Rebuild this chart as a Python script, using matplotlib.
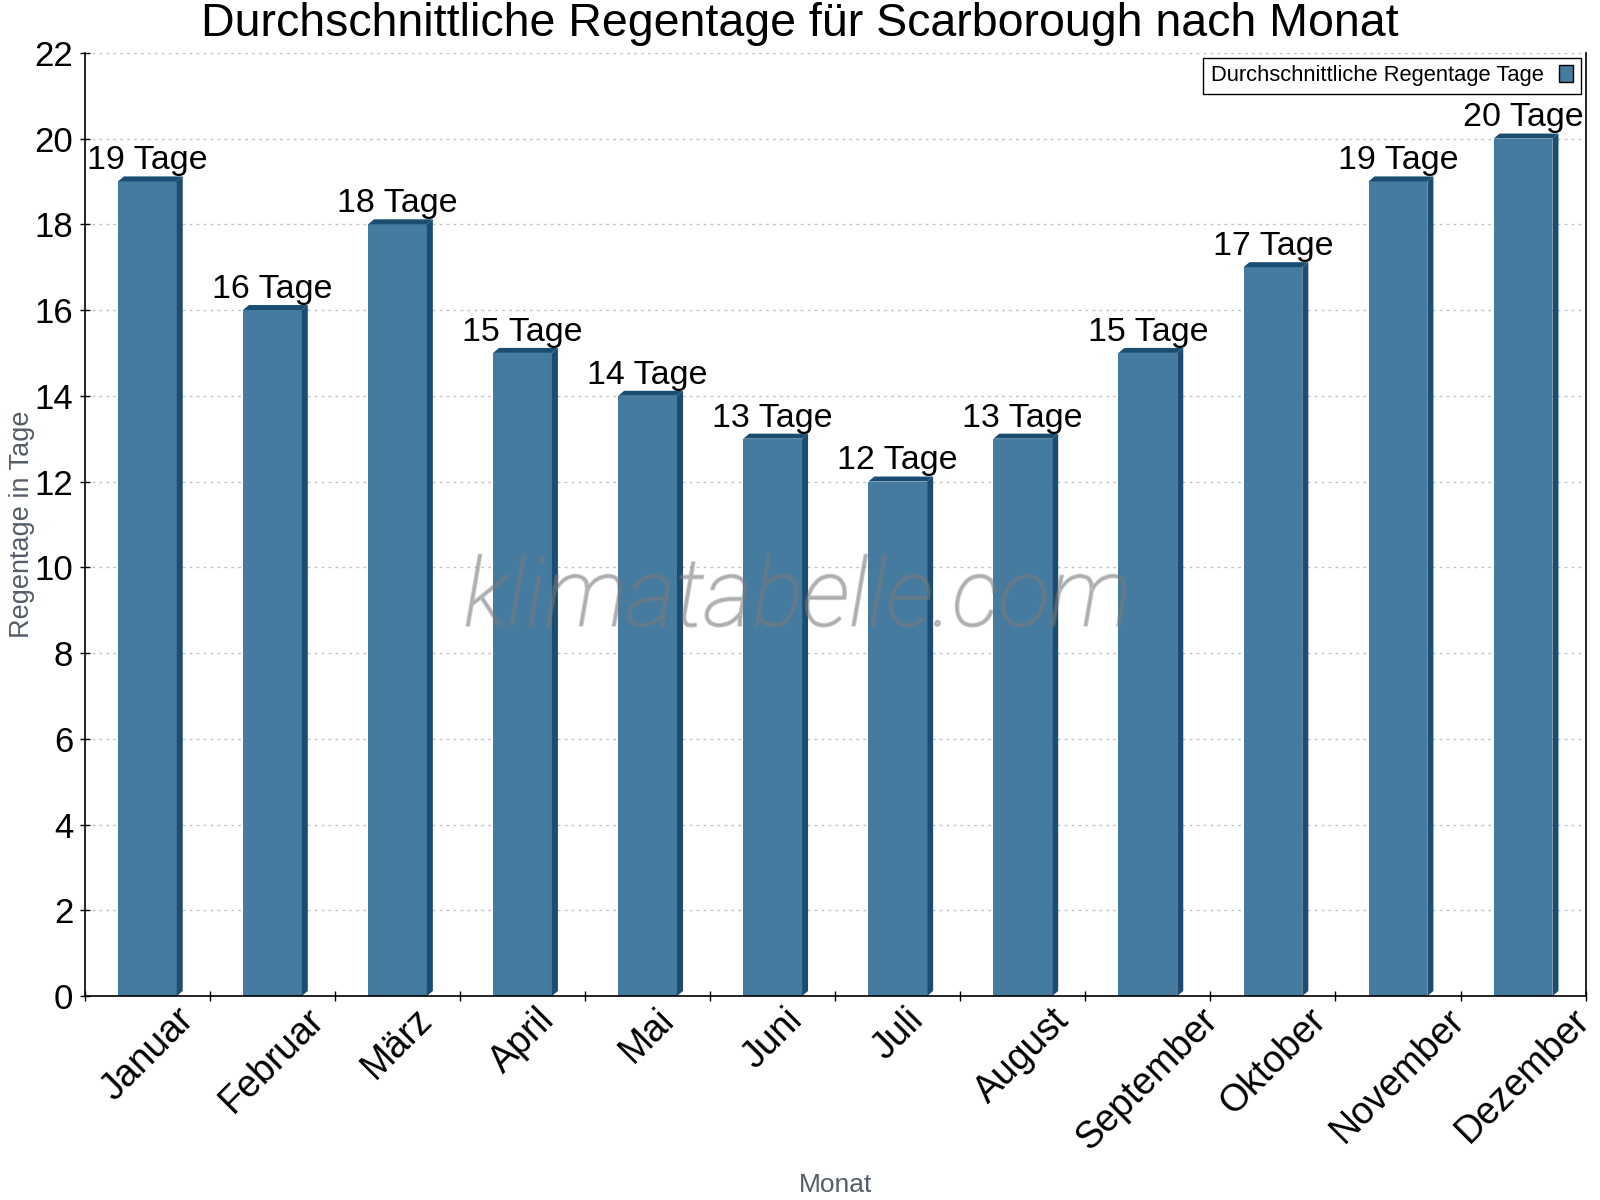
import matplotlib
matplotlib.use("Agg")
import matplotlib.pyplot as plt
import matplotlib.patheffects as pe
from matplotlib.patches import Polygon, Patch
import numpy as np

plt.rcParams['font.family'] = ['Liberation Sans', 'DejaVu Sans']

# data
months = ["Januar", "Februar", "März", "April", "Mai", "Juni", "Juli",
          "August", "September", "Oktober", "November", "Dezember"]
rain_days = [19, 16, 18, 15, 14, 13, 12, 13, 15, 17, 19, 20]
y_ticks = [0, 2, 4, 6, 8, 10, 12, 14, 16, 18, 20, 22]

front_col = "#467ba0"
dark_col = "#1a4d71"

fig = plt.figure(figsize=(16, 12), dpi=100)
ax = fig.add_axes([0.053, 0.17, 0.938, 0.786])

x = np.arange(len(months))
bar_w = 0.47
ax.bar(x, rain_days, width=bar_w, color=front_col, zorder=2)

# fake 3d: side and top faces
dx = 6 / 125.0
dy = 5 / (943 / 22.0)
for xi, v in zip(x, rain_days):
    x0, x1 = xi - bar_w / 2, xi + bar_w / 2
    side = Polygon([(x1, 0), (x1 + dx, dy), (x1 + dx, v + dy), (x1, v)],
                   closed=True, facecolor=dark_col, edgecolor='none', zorder=2)
    top = Polygon([(x0, v), (x0 + dx, v + dy), (x1 + dx, v + dy), (x1, v)],
                  closed=True, facecolor=dark_col, edgecolor='none', zorder=2)
    ax.add_patch(side)
    ax.add_patch(top)
    ax.text(xi, v + 0.12, f"{v} Tage", ha='center', va='bottom',
            fontsize=24.5, color='black', zorder=5, clip_on=False)

ax.set_xlim(-0.5, len(months) - 0.5)
ax.set_ylim(0, 22)
ax.set_yticks(y_ticks)
ax.set_xticks(x)
ax.set_xticklabels(months, rotation=45, fontsize=27)
ax.set_xticks(np.arange(len(months) + 1) - 0.5, minor=True)
ax.tick_params(axis='x', which='major', length=0, pad=4)
ax.tick_params(axis='x', which='minor', direction='inout', length=6.5, width=1)
ax.tick_params(axis='y', direction='inout', length=6.5, width=1, pad=5, labelsize=25)

ax.grid(axis='y', color='#c4c4c4', linestyle=(0, (2, 3)), linewidth=1, zorder=0)
ax.set_axisbelow(True)
ax.spines['top'].set_visible(False)
for s in ['left', 'bottom', 'right']:
    ax.spines[s].set_linewidth(1.2)

ax.set_ylabel("Regentage in Tage", fontsize=19.5, color='#555e68')
ax.yaxis.set_label_coords(-0.033, 0.5)
ax.set_xlabel("Monat", fontsize=19, color='#555e68', va='center')
ax.xaxis.set_label_coords(0.5, -0.2)

fig.suptitle("Durchschnittliche Regentage für Scarborough nach Monat",
             x=0.5, y=0.998, va='top', fontsize=33.5)

# watermark, thin font thickened a bit with a stroke
ax.text(0.475, 0.42, "klimatabelle.com", transform=ax.transAxes,
        ha='center', va='center', fontsize=68, family='Roboto',
        fontweight='light', style='italic', color='#7a7a7a', alpha=0.4, zorder=4,
        path_effects=[pe.Stroke(linewidth=1.6, foreground='#7a7a7a')])

handle = Patch(facecolor=front_col, edgecolor='black', linewidth=1)
leg = ax.legend([handle], ["Durchschnittliche Regentage Tage"], loc='upper right',
                bbox_to_anchor=(0.997, 0.995), fontsize=15.8, markerfirst=False,
                fancybox=False, framealpha=1, edgecolor='black',
                handlelength=0.65, handleheight=0.8, handletextpad=0.7,
                borderpad=0.35, borderaxespad=0)
leg.get_frame().set_linewidth(1)

fig.savefig("out.png", dpi=100)
